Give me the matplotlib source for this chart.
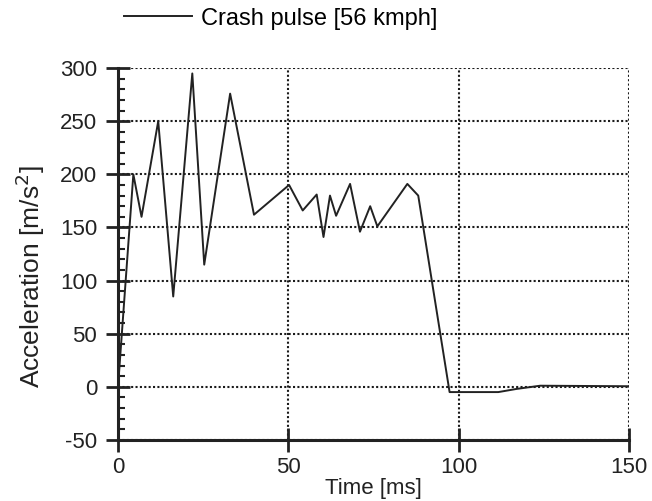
import numpy as np
import matplotlib
matplotlib.use("Agg")
import matplotlib.pyplot as plt
from matplotlib.ticker import MultipleLocator

# crash pulse
time_ms = [0, 4.5, 6.9, 11.8, 16.2, 21.8, 25.3, 32.9, 39.9, 50.2, 54.2, 58.3,
           60.3, 62.2, 64.0, 68.1, 71.0, 74.0, 76.1, 84.9, 88.1, 97.3, 111.6,
           117.0, 123.9, 150]
accel = [0, 200, 160, 250, 85, 295, 115, 276, 162, 190, 166, 181,
         141, 180, 161, 191, 146, 170, 151, 191, 180, -5, -5,
         -2, 1, 0.5]

x_ticks = [0, 50, 100, 150]
y_ticks = [-50, 0, 50, 100, 150, 200, 250, 300]

plt.rcParams['font.family'] = ['Liberation Sans', 'DejaVu Sans']
plt.rcParams['axes.unicode_minus'] = False

fig = plt.figure(figsize=(6.52, 5.01), dpi=100)
ax = fig.add_axes([0.181, 0.122, 0.784, 0.742])

ax.plot(time_ms, accel, color='#222222', lw=1.4, label='Crash pulse [56 kmph]')

ax.set_xlim(0, 150)
ax.set_ylim(-50, 300)
ax.set_xticks(x_ticks)
ax.set_yticks(y_ticks)
ax.yaxis.set_minor_locator(MultipleLocator(10))

ax.grid(True, which='major', color='#1a1a1a', linestyle=(0, (1, 1.1)), lw=1.5)
for s in ['top', 'right']:
    ax.spines[s].set_visible(False)
for s in ['left', 'bottom']:
    ax.spines[s].set_linewidth(2.2)
    ax.spines[s].set_color('#222222')

ax.tick_params(axis='both', which='major', direction='inout', length=17,
               width=2, color='#222222', labelsize=16, labelcolor='#222222')
ax.tick_params(axis='y', which='major', pad=6.5)
ax.tick_params(axis='x', which='major', pad=4)
ax.tick_params(axis='y', which='minor', direction='in', length=5, width=1.5,
               color='#222222')

ax.set_xlabel('Time [ms]', fontsize=16, color='#222222', labelpad=0)
ax.set_ylabel('Acceleration [m/s$^2$]', fontsize=19, color='#222222', labelpad=9)
ax.yaxis.label.set_y(0.44)

fig.legend(loc='center left', bbox_to_anchor=(0.172, 0.963), frameon=False,
           fontsize=17, handlelength=2.9, handletextpad=0.35, borderpad=0)

fig.savefig('out.png', dpi=100)
